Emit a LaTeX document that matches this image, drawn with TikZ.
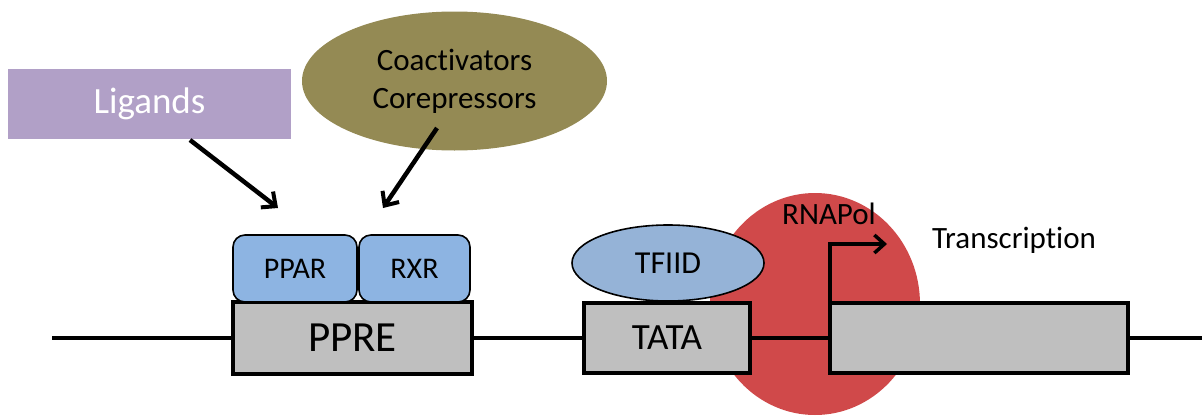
\documentclass[tikz,border=0pt]{standalone}
\usepackage{fontspec}
\setmainfont{Carlito}[Ligatures=NoCommon]
\usetikzlibrary{shapes.geometric,arrows.meta}
\definecolor{ligandc}{RGB}{177,160,199}
\definecolor{coactc}{RGB}{148,138,84}
\definecolor{receptc}{RGB}{141,180,226}
\definecolor{tfiidc}{RGB}{149,179,215}
\definecolor{dnaboxc}{RGB}{191,191,191}
\definecolor{polc}{RGB}{208,73,74}
\tikzset{
  dnabox/.style={draw=black, line width=4.5pt, fill=dnaboxc, inner sep=0pt, outer sep=0pt},
  receptor/.style={draw=black, line width=1.6pt, fill=receptc, rounded corners=12pt, inner sep=0pt,
    minimum height=67pt, font=\fontsize{30}{32}\selectfont},
  pointer/.style={line width=4.5pt, -{Straight Barb[length=11pt,width=20pt,line width=4pt]}},
  dna/.style={line width=4pt}
}
\begin{document}
\begin{tikzpicture}[x=1pt,y=-1pt]
\useasboundingbox (0,0) rectangle (1202,415);

% RNA polymerase behind the promoter
\node[ellipse, fill=polc, minimum width=210pt, minimum height=222pt, inner sep=0pt] (pol) at (815,304) {};

% DNA boxes
\node[dnabox, minimum width=239pt, minimum height=72pt, font=\fontsize{43}{46}\selectfont] (ppre) at (352.5,338) {PPRE};
\node[dnabox, minimum width=166pt, minimum height=70pt, font=\fontsize{37}{40}\selectfont] (tata) at (667,338) {TATA};
\node[dnabox, minimum width=298pt, minimum height=70pt] (gene) at (979,338) {};

% DNA strand
\coordinate (dnaL) at (52,338);
\coordinate (dnaR) at (1202,338);
\draw[dna] (dnaL) -- (ppre.west);
\draw[dna] (ppre.east) -- (tata.west);
\draw[dna] (tata.east) -- (gene.west);
\draw[dna] (gene.east) -- (dnaR);

% receptors
\node[receptor, minimum width=124pt] (ppar) at (295,268.5) {PPAR};
\node[receptor, minimum width=111pt] (rxr) at (414.5,268.5) {RXR};

% TFIID
\node[ellipse, draw=black, line width=1.6pt, fill=tfiidc, minimum width=192pt, minimum height=76pt,
  inner sep=0pt, font=\fontsize{32}{34}\selectfont] (tfiid) at (668,263) {TFIID};

% transcription start
\coordinate (tss) at (887,244);
\draw[line width=4pt, -{Straight Barb[length=10pt,width=18pt,line width=3.5pt]}]
  (gene.north west) |- (tss);

\node[font=\fontsize{31}{33}\selectfont] (rnapol) at (829,214) {RNAPol};
\node[font=\fontsize{31}{33}\selectfont] (trans) at (1014,240) {Transcription};

% ligands
\node[fill=ligandc, minimum width=283pt, minimum height=70pt, inner sep=0pt,
  text=white, font=\fontsize{37}{40}\selectfont] (lig) at (149.5,104) {Ligands};

% cofactors
\node[ellipse, fill=coactc, minimum width=305pt, minimum height=139pt, inner sep=0pt,
  align=center, font=\fontsize{31}{38}\selectfont] (coact) at (454.5,81) {Coactivators\\Corepressors};

% arrows onto the receptor pair
\coordinate (ligtip) at (278,208);
\coordinate (cotip) at (383,208);
\draw[pointer] (190,140) -- (ligtip);
\draw[pointer] (437,128) -- (cotip);
\end{tikzpicture}
\end{document}
